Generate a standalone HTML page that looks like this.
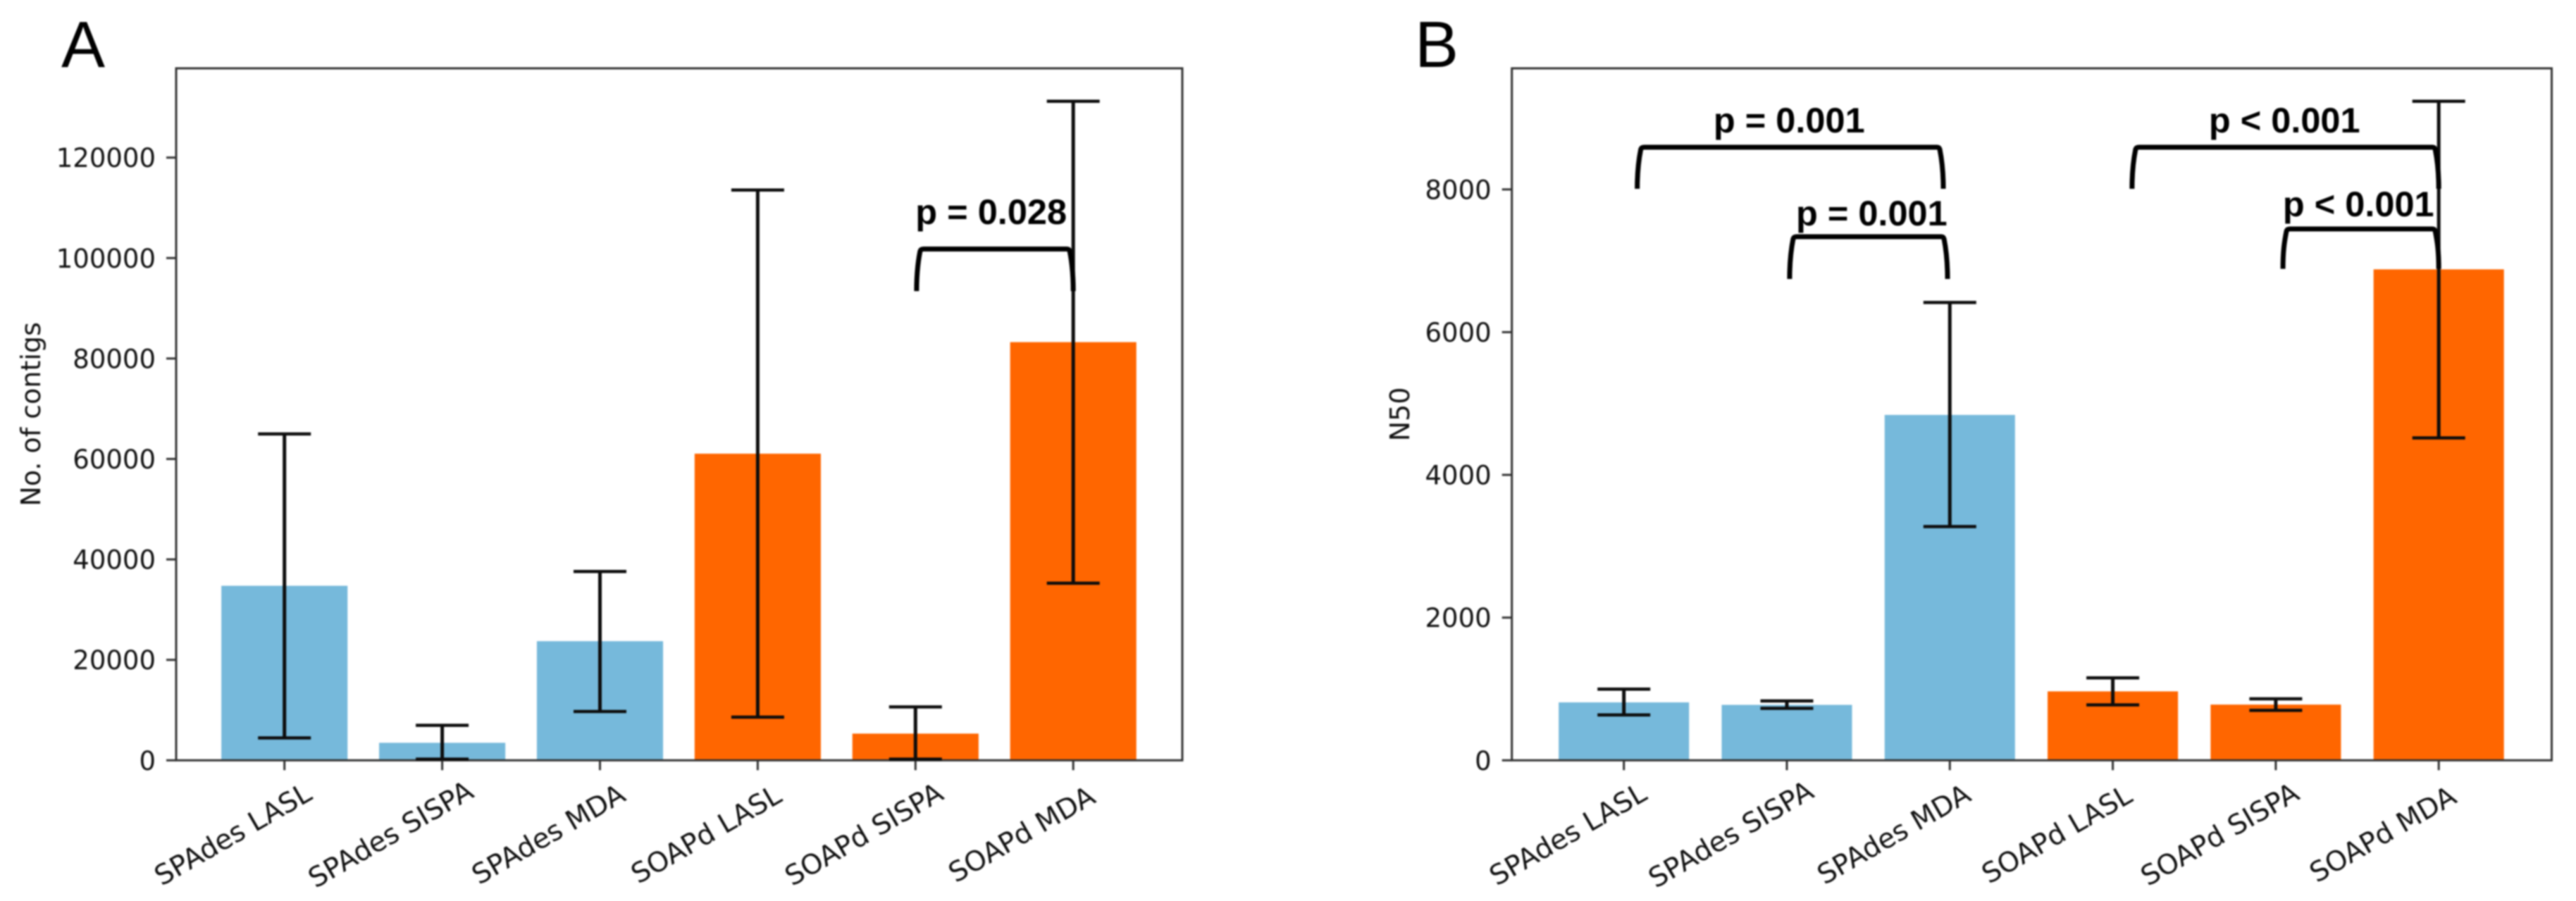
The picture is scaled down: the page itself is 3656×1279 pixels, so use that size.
<!DOCTYPE html>
<html lang="en">
<head>
<meta charset="utf-8">
<title>Contigs and N50 by assembler and amplification method</title>
<style>
  html, body { margin: 0; padding: 0; background: #fff; width: 3656px; height: 1279px; overflow: hidden; }
  svg { display: block; filter: blur(1px); }
  .tick-label { font-family: "DejaVu Sans", sans-serif; font-size: 37px; fill: #111; }
  .cat-label { font-family: "DejaVu Sans", sans-serif; font-size: 39px; fill: #111; }
  .axis-title { font-family: "DejaVu Sans", sans-serif; font-size: 38px; fill: #111; }
  .panel-letter { font-family: "Liberation Sans", sans-serif; font-size: 93px; fill: #000; }
  .p-label { font-family: "Liberation Sans", sans-serif; font-size: 50.5px; font-weight: bold; fill: #000; }
</style>
</head>
<body>
<svg id="figure" xmlns="http://www.w3.org/2000/svg" width="3656" height="1279" viewBox="0 0 3656 1279">
  <rect x="0" y="0" width="3656" height="1279" fill="#ffffff"/>
  <text class="panel-letter" x="87" y="95">A</text>
  <text class="panel-letter" x="2008" y="95">B</text>
  <text class="axis-title" transform="translate(57,588) rotate(-90)" text-anchor="middle">No. of contigs</text>
  <text class="axis-title" transform="translate(2000,588) rotate(-90)" text-anchor="middle">N50</text>
  <g id="panel-a"></g>
  <g id="panel-b"></g>
</svg>
<script>
// Shared categories
const categories = ["SPAdes LASL", "SPAdes SISPA", "SPAdes MDA", "SOAPd LASL", "SOAPd SISPA", "SOAPd MDA"];

// Panel A: number of contigs
const contigsValues = [34750, 3490, 23720, 61050, 5320, 83260];
const contigsErrLow = [4460, 240, 9720, 8600, 240, 35260];
const contigsErrHigh = [64980, 6970, 37600, 113540, 10630, 131220];
const contigsTicks = [0, 20000, 40000, 60000, 80000, 100000, 120000];
const contigsTickLabels = ["0", "20000", "40000", "60000", "80000", "100000", "120000"];
const contigsBracketFrom = [4.007];
const contigsBracketTo = [5.0];
const contigsBracketTop = [101800];
const contigsBracketBase = [93420];
const contigsBracketText = ["p = 0.028"];
const contigsTextAt = [4.0];
const contigsTextLevel = [106770];

// Panel B: N50
const n50Values = [812, 777, 4840, 966, 781, 6880];
const n50ErrLow = [636, 728, 3275, 777, 700, 4518];
const n50ErrHigh = [998, 832, 6416, 1155, 862, 9236];
const n50Ticks = [0, 2000, 4000, 6000, 8000];
const n50TickLabels = ["0", "2000", "4000", "6000", "8000"];
const n50BracketFrom = [0.082, 1.017, 3.118, 4.044];
const n50BracketTo = [1.96, 1.986, 5.0, 5.0];
const n50BracketTop = [8591, 7337, 8591, 7446];
const n50BracketBase = [8009, 6745, 8009, 6887];
const n50BracketText = ["p = 0.001", "p = 0.001", "p < 0.001", "p < 0.001"];
const n50TextAt = [0.55, 1.056, 3.589, 4.043];
const n50TextLevel = [8799, 7495, 8799, 7625];

const NS = "http://www.w3.org/2000/svg";
const AXIS_COLOR = "#333333";
const INK = "#0d0d0d";
const BLUE = "#76b9db";
const ORANGE = "#ff6600";

// Axis functions
function xA(i) { return 403.7 + i * 223.9; }
function yA(v) { return 1079.3 - v * 142.6 / 20000; }
function xB(i) { return 2304.7 + i * 231.3; }
function yB(v) { return 1079.3 - v * 202.6 / 2000; }

function make(parent, tag, attrs, text) {
  const el = document.createElementNS(NS, tag);
  for (const k in attrs) el.setAttribute(k, attrs[k]);
  if (text !== undefined) el.textContent = text;
  parent.appendChild(el);
  return el;
}

function slug(s) { return s.toLowerCase().replace(/\s+/g, "-"); }

function drawPanel(cfg) {
  const g = cfg.root;
  const barW = cfg.step * 0.8;

  // bars
  categories.forEach(function (cat, i) {
    const top = cfg.y(cfg.values[i]);
    const bar = make(g, "rect", {
      x: cfg.x(i) - barW / 2, y: top, width: barW, height: cfg.y(0) - top,
      fill: cat.indexOf("SPAdes") === 0 ? BLUE : ORANGE
    });
    
    
  });

  // axes frame
  const frame = make(g, "rect", {
    x: cfg.left, y: 97, width: cfg.right - cfg.left, height: cfg.y(0) - 97,
    fill: "none", stroke: AXIS_COLOR, "stroke-width": 3
  });
  
  

  // y ticks
  cfg.ticks.forEach(function (t, i) {
    const yy = cfg.y(t);
    const tick = make(g, "line", { x1: cfg.left - 14, x2: cfg.left, y1: yy, y2: yy, stroke: AXIS_COLOR, "stroke-width": 3 });
    
    
    const lab = make(g, "text", { class: "tick-label", x: cfg.left - 29, y: yy + 13.5, "text-anchor": "end" }, cfg.tickLabels[i]);
    
    
  });

  // x ticks and labels
  categories.forEach(function (cat, i) {
    const xx = cfg.x(i);
    const tick = make(g, "line", { x1: xx, x2: xx, y1: cfg.y(0), y2: cfg.y(0) + 14, stroke: AXIS_COLOR, "stroke-width": 3 });
    
    
    const lab = make(g, "text", {
      class: "cat-label", "text-anchor": "middle", "dominant-baseline": "central",
      transform: "translate(" + (xx + cfg.labelShift) + ",1185) rotate(-30)"
    }, cat);
    
    
  });

  // error bars
  categories.forEach(function (cat, i) {
    const xx = cfg.x(i);
    const hi = cfg.y(cfg.errHigh[i]);
    const lo = cfg.y(cfg.errLow[i]);
    const stem = make(g, "line", { x1: xx, x2: xx, y1: hi, y2: lo, stroke: INK, "stroke-width": 5 });
    
    
    const capHi = make(g, "line", { x1: xx - 37.5, x2: xx + 37.5, y1: hi, y2: hi, stroke: INK, "stroke-width": 4.5 });
    
    
    const capLo = make(g, "line", { x1: xx - 37.5, x2: xx + 37.5, y1: lo, y2: lo, stroke: INK, "stroke-width": 4.5 });
    
    
  });

  // significance brackets
  cfg.bFrom.forEach(function (from, i) {
    const L = cfg.x(from), R = cfg.x(cfg.bTo[i]);
    const T = cfg.y(cfg.bTop[i]), B = cfg.y(cfg.bBase[i]);
    const d = "M" + L + "," + B +
      " C" + L + "," + (B - 25) + " " + (L + 2) + "," + (T + 18) + " " + (L + 5) + "," + (T + 3) +
      " Q" + (L + 6) + "," + T + " " + (L + 10) + "," + T +
      " L" + (R - 9) + "," + T +
      " Q" + (R - 6) + "," + T + " " + (R - 5) + "," + (T + 3) +
      " C" + (R - 2) + "," + (T + 18) + " " + R + "," + (B - 25) + " " + R + "," + B;
    const br = make(g, "path", { d: d, fill: "none", stroke: "#000", "stroke-width": 7 });
    
    
    const lab = make(g, "text", { class: "p-label", x: cfg.x(cfg.tAt[i]), y: cfg.y(cfg.tLevel[i]) }, cfg.bText[i]);
    
    
  });
}

drawPanel({
  root: document.getElementById("panel-a"), x: xA, y: yA, step: 223.9, left: 250, right: 1678, labelShift: -72.7,
  values: contigsValues, errLow: contigsErrLow, errHigh: contigsErrHigh,
  ticks: contigsTicks, tickLabels: contigsTickLabels,
  bFrom: contigsBracketFrom, bTo: contigsBracketTo, bTop: contigsBracketTop, bBase: contigsBracketBase,
  bText: contigsBracketText, tAt: contigsTextAt, tLevel: contigsTextLevel
});

drawPanel({
  root: document.getElementById("panel-b"), x: xB, y: yB, step: 231.3, left: 2145.7, right: 3621.5, labelShift: -79,
  values: n50Values, errLow: n50ErrLow, errHigh: n50ErrHigh,
  ticks: n50Ticks, tickLabels: n50TickLabels,
  bFrom: n50BracketFrom, bTo: n50BracketTo, bTop: n50BracketTop, bBase: n50BracketBase,
  bText: n50BracketText, tAt: n50TextAt, tLevel: n50TextLevel
});
</script>
</body>
</html>
